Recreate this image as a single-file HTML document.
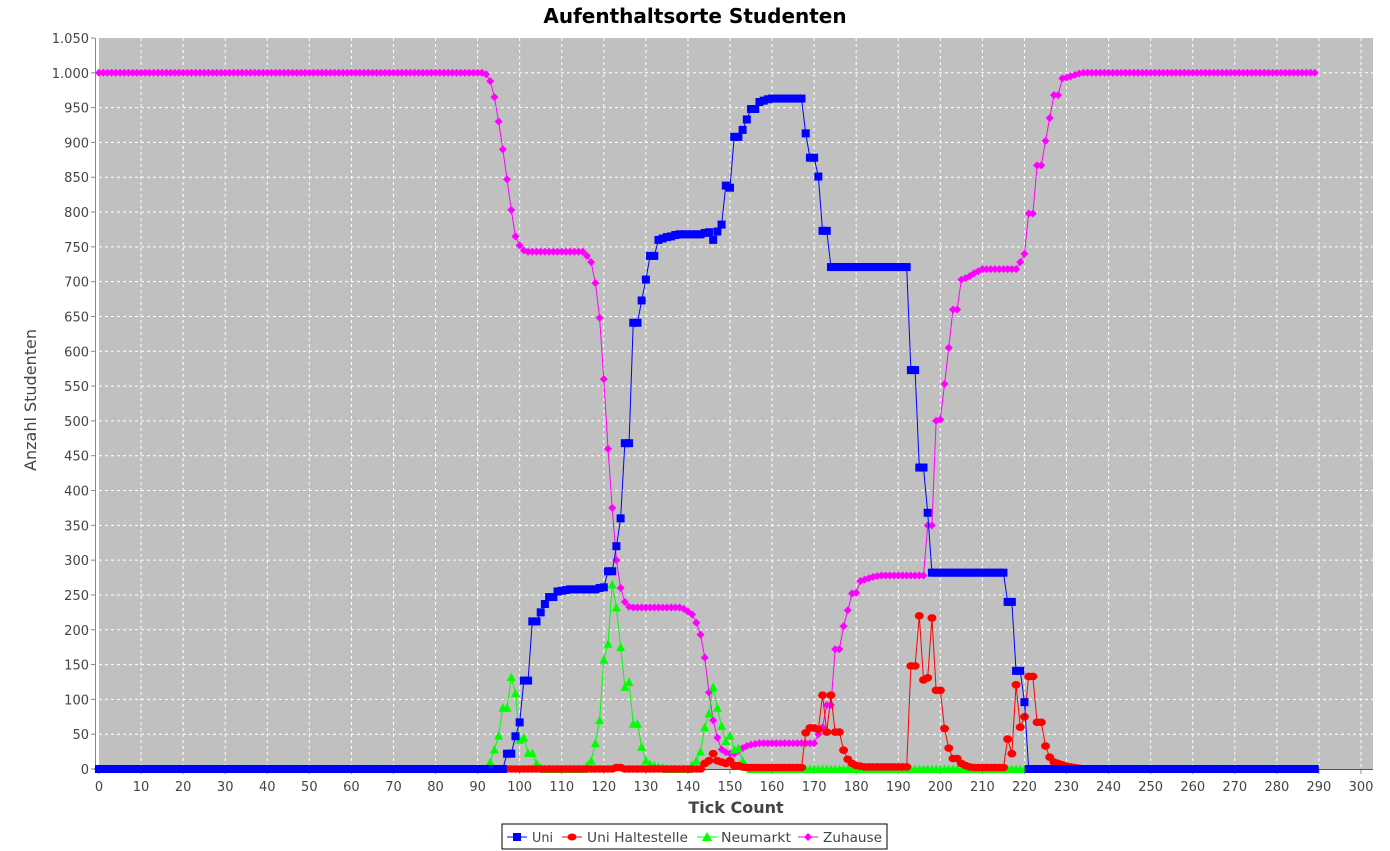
<!DOCTYPE html>
<html><head><meta charset="utf-8"><style>
html,body{margin:0;padding:0;background:#fff;}
svg{display:block;font-family:"DejaVu Sans","Liberation Sans",sans-serif;}
</style></head><body>
<svg id="chart" width="1390" height="851" viewBox="0 0 1390 851" xmlns="http://www.w3.org/2000/svg">
<text x="695" y="23" text-anchor="middle" font-size="20" font-weight="bold" fill="#000">Aufenthaltsorte Studenten</text>
<rect x="99" y="38" width="1274" height="731" fill="#c0c0c0"/>
<g id="grid"></g>
<g id="axes"></g>
<g id="series"></g>
<text x="736" y="813" text-anchor="middle" font-size="16" font-weight="bold" fill="#444">Tick Count</text>
<text transform="translate(36,400) rotate(-90)" text-anchor="middle" font-size="16" fill="#444">Anzahl Studenten</text>
<g>
<rect x="502" y="824" width="385" height="25" fill="#fff" stroke="#000" stroke-width="1"/>
<g>
<line x1="507" y1="837" x2="527" y2="837" stroke="#0000ff"/><rect x="513" y="833" width="8" height="8" fill="#0000ff"/>
<text x="532" y="842" font-size="13" fill="#444" textLength="21" lengthAdjust="spacingAndGlyphs">Uni</text></g>
<g>
<line x1="562" y1="837" x2="582" y2="837" stroke="#ff0000"/><ellipse cx="572" cy="837" rx="4.5" ry="3.5" fill="#ff0000"/>
<text x="587" y="842" font-size="13" fill="#444" textLength="101" lengthAdjust="spacingAndGlyphs">Uni Haltestelle</text></g>
<g>
<line x1="697" y1="837" x2="717" y2="837" stroke="#00ff00"/><polygon points="707,832 712,841 702,841" fill="#00ff00"/>
<text x="721" y="842" font-size="13" fill="#444" textLength="70" lengthAdjust="spacingAndGlyphs">Neumarkt</text></g>
<g>
<line x1="798" y1="837" x2="818" y2="837" stroke="#ff00ff"/><polygon points="808,833 812,837 808,841 804,837" fill="#ff00ff"/>
<text x="823" y="842" font-size="13" fill="#444" textLength="59" lengthAdjust="spacingAndGlyphs">Zuhause</text></g>
</g>
</svg>
<script>
const uniValues = [
0,0,0,0,0,0,0,0,0,0, 0,0,0,0,0,0,0,0,0,0, 0,0,0,0,0,0,0,0,0,0, 0,0,0,0,0,0,0,0,0,0,
0,0,0,0,0,0,0,0,0,0, 0,0,0,0,0,0,0,0,0,0, 0,0,0,0,0,0,0,0,0,0, 0,0,0,0,0,0,0,0,0,0,
0,0,0,0,0,0,0,0,0,0, 0,0,0,0,0,0,0,
22,22,47,67,127,127,212,212,225,237,247,247,255,256,257,
258,258,258,258,258,258,258,
260,261,284,284,320,360,468,468,641,641,673,703,737,737,760,762,764,765,767,
768,768,768,768,768,768,
770,771,760,772,782,838,835,908,908,918,933,948,948,958,960,962,
963,963,963,963,963,963,963,963,
913,878,878,851,773,773,
721,721,721,721,721,721,721,721,721,721,721,721,721,721,721,721,721,721,721,
573,573,433,433,368,
282,282,282,282,282,282,282,282,282,282,282,282,282,282,282,282,282,282,
240,240,141,141,96,
0,0,0,0,0,0,0,0,0,0, 0,0,0,0,0,0,0,0,0,0, 0,0,0,0,0,0,0,0,0,0, 0,0,0,0,0,0,0,0,0,0,
0,0,0,0,0,0,0,0,0,0, 0,0,0,0,0,0,0,0,0,0, 0,0,0,0,0,0,0,0,0
];
const haltestelleValues = [
0,0,0,0,0,0,0,0,0,0, 0,0,0,0,0,0,0,0,0,0, 0,0,0,0,0,0,0,0,0,0, 0,0,0,0,0,0,0,0,0,0,
0,0,0,0,0,0,0,0,0,0, 0,0,0,0,0,0,0,0,0,0, 0,0,0,0,0,0,0,0,0,0, 0,0,0,0,0,0,0,0,0,0,
0,0,0,0,0,0,0,0,0,0, 0,0,0,0,0,0,
0,0,0,0,0,0,0,0,0,0, 0,0,0,0,0,0,0,0,0,0, 0,0,0,0,0,0,0,
2,2,
0,0,0,0,0,0,0,0,0,0, 0,0,0,0,0,0,0,0,0,
8,12,22,12,10,8,12,5,5,3,
2,2,2,2,2,2,2,2,2,2,2,2,2,2,
52,59,59,57,106,53,106,53,53,27,14,8,5,4,
3,3,3,3,3,3,3,3,3,3,3,
148,148,220,128,131,217,113,113,58,30,15,15,8,5,3,
2,2,2,2,2,2,2,2,
43,22,121,60,75,133,133,67,67,33,17,10,8,6,4,3,2,1,
0,0,0,0,0,0,0,0,0,0, 0,0,0,0,0,0,0,0,0,0, 0,0,0,0,0,0,0,0,0,0, 0,0,0,0,0,0,0,0,0,0,
0,0,0,0,0,0,0,0,0,0, 0,0,0,0,0,0
];
const neumarktValues = [
0,0,0,0,0,0,0,0,0,0, 0,0,0,0,0,0,0,0,0,0, 0,0,0,0,0,0,0,0,0,0, 0,0,0,0,0,0,0,0,0,0,
0,0,0,0,0,0,0,0,0,0, 0,0,0,0,0,0,0,0,0,0, 0,0,0,0,0,0,0,0,0,0, 0,0,0,0,0,0,0,0,0,0,
0,0,0,0,0,0,0,0,0,0, 0,0,0,
10,28,48,88,88,132,109,42,45,23,23,8,2,
0,0,0,0,0,0,0,0,0,0,
5,12,37,70,157,180,265,232,175,118,125,65,65,32,12,7,5,3,2,
0,0,0,0,0,0,
6,12,25,60,80,118,88,62,40,48,28,30,12,3,
0,0,0,0,0,0,0,0,0,0, 0,0,0,0,0,0,0,0,0,0, 0,0,0,0,0,0,0,0,0,0, 0,0,0,0,0,0,0,0,0,0,
0,0,0,0,0,0,0,0,0,0, 0,0,0,0,0,0,0,0,0,0, 0,0,0,0,0,0,0,0,0,0, 0,0,0,0,0,0,0,0,0,0,
0,0,0,0,0,0,0,0,0,0, 0,0,0,0,0,0,0,0,0,0, 0,0,0,0,0,0,0,0,0,0, 0,0,0,0,0,0,0,0,0,0,
0,0,0,0,0,0,0,0,0,0, 0,0,0,0,0
];
const zuhauseValues = [
1000,1000,1000,1000,1000,1000,1000,1000,1000,1000, 1000,1000,1000,1000,1000,1000,1000,1000,1000,1000,
1000,1000,1000,1000,1000,1000,1000,1000,1000,1000, 1000,1000,1000,1000,1000,1000,1000,1000,1000,1000,
1000,1000,1000,1000,1000,1000,1000,1000,1000,1000, 1000,1000,1000,1000,1000,1000,1000,1000,1000,1000,
1000,1000,1000,1000,1000,1000,1000,1000,1000,1000, 1000,1000,1000,1000,1000,1000,1000,1000,1000,1000,
1000,1000,1000,1000,1000,1000,1000,1000,1000,1000, 1000,1000,
998,988,965,930,890,847,803,765,752,745,
743,743,743,743,743,743,743,743,743,743,743,743,743,743,
737,728,698,648,560,460,375,300,260,240,233,
232,232,232,232,232,232,232,232,232,232,232,232,
230,226,222,210,193,160,110,70,45,28,24,22,22,26,30,33,35,36,
37,37,37,37,37,37,37,37,37,37,37,37,37,37,
50,60,92,92,172,172,205,228,252,253,270,272,274,276,277,
278,278,278,278,278,278,278,278,278,278,278,
350,350,500,502,553,605,660,660,703,705,708,712,715,
718,718,718,718,718,718,718,718,718,
728,740,798,798,867,867,902,935,968,968,992,993,995,997,999,
1000,1000,1000,1000,1000,1000,1000,1000,1000,1000, 1000,1000,1000,1000,1000,1000,1000,1000,1000,1000,
1000,1000,1000,1000,1000,1000,1000,1000,1000,1000, 1000,1000,1000,1000,1000,1000,1000,1000,1000,1000,
1000,1000,1000,1000,1000,1000,1000,1000,1000,1000, 1000,1000,1000,1000,1000,1000
];
const xTickLabels = ["0","10","20","30","40","50","60","70","80","90","100","110","120","130","140","150","160","170","180","190","200","210","220","230","240","250","260","270","280","290","300"];
const yTickLabels = ["0","50","100","150","200","250","300","350","400","450","500","550","600","650","700","750","800","850","900","950","1.000","1.050"];

const NS = "http://www.w3.org/2000/svg";
const L = 99, R = 1373, T = 38, B = 769;
const xScale = v => L + v * (1262 / 300);
const yScale = v => B - v * ((B - T) / 1050);
function mk(tag, attrs, parent){ const e = document.createElementNS(NS, tag); for (const k in attrs) e.setAttribute(k, attrs[k]); parent.appendChild(e); return e; }
const grid = document.getElementById('grid'), axes = document.getElementById('axes'), ser = document.getElementById('series');

xTickLabels.forEach((lab) => {
  const v = parseFloat(lab.replace('.', ''));
  const x = xScale(v);
  if (x > L && x < R) { const g = mk('line', {x1:x, x2:x, y1:T, y2:B, stroke:'#fff', 'stroke-dasharray':'3,3', 'stroke-width':1}, grid);
    
     }
  const tk = mk('line', {x1:x, x2:x, y1:B+1, y2:B+5, stroke:'#888'}, axes);
  
  
  const t = mk('text', {x:x, y:B+22, 'text-anchor':'middle', 'font-size':13, fill:'#444'}, axes);
  
  
  t.textContent = lab;
});
yTickLabels.forEach((lab) => {
  const v = parseFloat(lab.replace('.', ''));
  const y = yScale(v);
  if (y > T && y < B) { const g = mk('line', {x1:L, x2:R, y1:y, y2:y, stroke:'#fff', 'stroke-dasharray':'3,3', 'stroke-width':1}, grid);
    
     }
  const tk = mk('line', {x1:91, x2:95, y1:y, y2:y, stroke:'#888'}, axes);
  
  
  const t = mk('text', {x:89, y:y+5, 'text-anchor':'end', 'font-size':13, fill:'#444'}, axes);
  
  
  t.textContent = lab;
});
const ya = mk('line', {x1:95.5, x2:95.5, y1:T, y2:B, stroke:'#888'}, axes);


const xa = mk('line', {x1:L, x2:R, y1:B+0.5, y2:B+0.5, stroke:'#555'}, axes);



function drawSeries(name, vals, color, shape){
  const g = mk('g', {}, ser);
  
  
  const pts = vals.map((v, i) => xScale(i).toFixed(2) + ',' + yScale(v).toFixed(2)).join(' ');
  const pl = mk('polyline', {points:pts, fill:'none', stroke:color, 'stroke-width':1}, g);
  
  
  vals.forEach((v, i) => {
    const x = xScale(i), y = yScale(v); let m;
    if (shape === 'square') m = mk('rect', {x:x-4, y:y-4, width:8, height:8, fill:color}, g);
    else if (shape === 'circle') m = mk('ellipse', {cx:x, cy:y, rx:4.5, ry:3.8, fill:color}, g);
    else if (shape === 'triangle') m = mk('polygon', {points:`${x},${y-4.5} ${x+4.5},${y+4} ${x-4.5},${y+4}`, fill:color}, g);
    else m = mk('polygon', {points:`${x},${y-4} ${x+4},${y} ${x},${y+4} ${x-4},${y}`, fill:color}, g);
    
    
  });
}
drawSeries('series-zuhause', zuhauseValues, '#ff00ff', 'diamond');
drawSeries('series-neumarkt', neumarktValues, '#00ff00', 'triangle');
drawSeries('series-uni-haltestelle', haltestelleValues, '#ff0000', 'circle');
drawSeries('series-uni', uniValues, '#0000ff', 'square');
</script>
</body></html>
